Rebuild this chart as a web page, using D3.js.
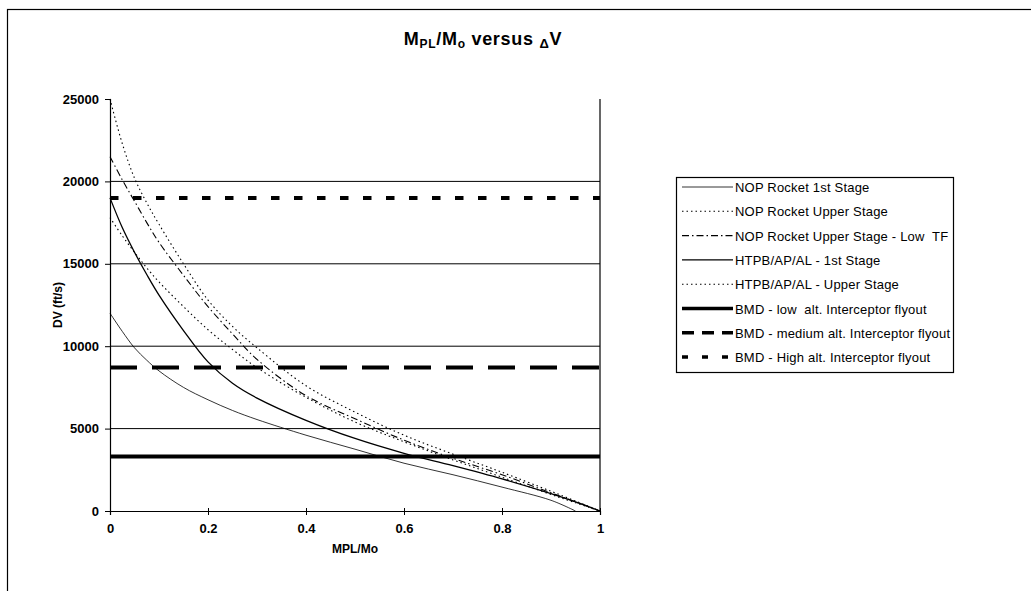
<!DOCTYPE html>
<html>
<head>
<meta charset="utf-8">
<script src="https://cdn.jsdelivr.net/npm/d3@7.9.0/dist/d3.min.js"></script>
<style>
  body { margin: 0; background: #fff; }
  svg { display: block; font-family: "Liberation Sans", Arial, sans-serif; }
  .tick text { font-weight: bold; font-size: 13px; fill: #000; }
  .legend text { font-size: 13px; fill: #000; letter-spacing: 0.2px; }
</style>
</head>
<body>
<svg id="chart" width="1031" height="591"></svg>
<script>
// ================================
// Data
// ================================
const mplMo = [0, 0.025, 0.05, 0.075, 0.1, 0.15, 0.2, 0.25, 0.3, 0.4, 0.5, 0.6, 0.7, 0.8, 0.9, 0.95, 1];

const nopFirst = [12000, 10900, 9900, 9150, 8500, 7500, 6750, 6100, 5550, 4600, 3750, 2900, 2200, 1450, 650, 0, null];
const nopUpper = [25000, 22300, 20200, 18700, 17400, 15000, 12800, 11200, 9900, 7600, 6000, 4600, 3450, 2350, 1200, 600, 0];
const nopUpperLowTF = [21500, 20100, 18800, 17500, 16300, 14300, 12400, 10750, 9200, 7000, 5600, 4300, 3200, 2200, 1100, 550, 0];
const htpbFirst = [19000, 17200, 15700, 14350, 13100, 10950, 9050, 7750, 6850, 5500, 4400, 3500, 2750, 1950, 1050, 550, 0];
const htpbUpper = [17800, 16700, 15700, 14750, 13900, 12400, 11000, 9800, 8700, 6900, 5400, 4200, 3100, 2050, 1000, 500, 0];

// interceptor flyout requirements (constant DV)
const bmdLow = 3300;
const bmdMedium = 8700;
const bmdHigh = 19000;

const seriesNames = [
  "NOP Rocket 1st Stage",
  "NOP Rocket Upper Stage",
  "NOP Rocket Upper Stage - Low  TF",
  "HTPB/AP/AL - 1st Stage",
  "HTPB/AP/AL - Upper Stage",
  "BMD - low  alt. Interceptor flyout",
  "BMD - medium alt. Interceptor flyout",
  "BMD - High alt. Interceptor flyout"
];

const xTicks = [0, 0.2, 0.4, 0.6, 0.8, 1];
const yTicks = [0, 5000, 10000, 15000, 20000, 25000];

// ================================
// Setup
// ================================
const svg = d3.select("#chart");
const x = d3.scaleLinear().domain([0, 1]).range([110, 600]);
const y = d3.scaleLinear().domain([0, 25000]).range([511, 99]);

// line styles per series (same order as seriesNames)
const styles = [
  { w: 0.8, dash: null },
  { w: 1.1, dash: "1.5,3" },
  { w: 1.1, dash: "7,3,1.5,3" },
  { w: 1.3, dash: null },
  { w: 1.1, dash: "1.5,3" },
  { w: 4, dash: null },
  { w: 4, dash: "27,15" },
  { w: 4, dash: "8.5,14.5" }
];

// outer frame
svg.append("rect")
  .attr("x", 7.5).attr("y", 9.5)
  .attr("width", 1040).attr("height", 600)
  .attr("fill", "none").attr("stroke", "#000").attr("stroke-width", 1.2);

// ================================
// Gridlines + axes
// ================================
svg.append("g")
  .selectAll("line")
  .data(yTicks.filter((d) => d > 0 && d < 25000))
  .join("line")
  .attr("x1", x(0)).attr("x2", x(1))
  .attr("y1", (d) => y(d)).attr("y2", (d) => y(d))
  .attr("stroke", "#000").attr("stroke-width", 1);

svg.append("line")
  .attr("x1", x(1)).attr("x2", x(1))
  .attr("y1", y(25000)).attr("y2", y(0))
  .attr("stroke", "#000").attr("stroke-width", 1.2);

const yAxis = svg.append("g")
  .attr("transform", `translate(${x(0)},0)`)
  .call(d3.axisLeft(y).tickValues(yTicks).tickSize(5).tickPadding(6).tickFormat(d3.format("d")));

const xAxis = svg.append("g")
  .attr("transform", `translate(0,${y(0)})`)
  .call(d3.axisBottom(x).tickValues(xTicks).tickSize(4).tickPadding(9).tickFormat((d) => String(d)));

[yAxis, xAxis].forEach((g) => {
  g.select(".domain").attr("stroke", "#000").attr("stroke-width", 1.2);
  g.selectAll(".tick line").attr("stroke", "#000");
  g.selectAll(".tick text").attr("font-family", "Liberation Sans, Arial, sans-serif");
});
xAxis.selectAll(".tick line").attr("y1", -3);

// ================================
// Curves
// ================================
const curves = [nopFirst, nopUpper, nopUpperLowTF, htpbFirst, htpbUpper];
const line = d3.line()
  .defined((d) => d[1] != null)
  .x((d) => x(d[0]))
  .y((d) => y(d[1]))
  .curve(d3.curveCatmullRom.alpha(0.5));

svg.append("g")
  .selectAll("path")
  .data(curves)
  .join("path")
  .attr("d", (vals) => line(mplMo.map((m, i) => [m, vals[i]])))
  .attr("fill", "none")
  .attr("stroke", "#000")
  .attr("stroke-width", (_, i) => styles[i].w)
  .attr("stroke-dasharray", (_, i) => styles[i].dash);

// horizontal requirement lines
svg.append("g")
  .selectAll("line")
  .data([bmdLow, bmdMedium, bmdHigh])
  .join("line")
  .attr("x1", x(0)).attr("x2", x(1))
  .attr("y1", (d) => y(d)).attr("y2", (d) => y(d))
  .attr("stroke", "#000")
  .attr("stroke-width", (_, i) => styles[i + 5].w)
  .attr("stroke-dasharray", (_, i) => styles[i + 5].dash);

// ================================
// Titles
// ================================
const title = svg.append("text")
  .attr("x", 483).attr("y", 45)
  .attr("text-anchor", "middle")
  .attr("font-weight", "bold").attr("font-size", 18)
  .attr("letter-spacing", 0.7);
title.append("tspan").text("M");
title.append("tspan").attr("font-size", 12).attr("dy", 3).text("PL");
title.append("tspan").attr("dy", -3).text("/M");
title.append("tspan").attr("font-size", 12).attr("dy", 3).text("o");
title.append("tspan").attr("dy", -3).text(" versus ");
title.append("tspan").attr("font-size", 13).attr("dy", 3).text("Δ");
title.append("tspan").attr("dy", -3).text("V");

svg.append("text")
  .attr("transform", `translate(62,${y(12500)}) rotate(-90)`)
  .attr("text-anchor", "middle")
  .attr("font-weight", "bold").attr("font-size", 12)
  .text("DV (ft/s)");

svg.append("text")
  .attr("x", 355).attr("y", 553)
  .attr("text-anchor", "middle")
  .attr("font-weight", "bold").attr("font-size", 12)
  .text("MPL/Mo");

// ================================
// Legend
// ================================
const legend = svg.append("g").attr("class", "legend");
legend.append("rect")
  .attr("x", 676.5).attr("y", 177.5)
  .attr("width", 277).attr("height", 195)
  .attr("fill", "#fff").attr("stroke", "#000").attr("stroke-width", 1.2);

const rows = legend.selectAll("g.row")
  .data(seriesNames)
  .join("g")
  .attr("class", "row")
  .attr("transform", (_, i) => `translate(0,${187 + i * 24.3})`);

rows.append("line")
  .attr("x1", 682).attr("x2", 733)
  .attr("stroke", "#000")
  .attr("stroke-width", (_, i) => (i > 4 ? 3.5 : styles[i].w))
  .attr("stroke-dasharray", (_, i) => (i === 6 ? "12,8" : i === 7 ? "6,14" : styles[i].dash));

rows.append("text")
  .attr("x", 735).attr("y", 5)
  .style("white-space", "pre")
  .text((d) => d);
</script>
</body>
</html>
